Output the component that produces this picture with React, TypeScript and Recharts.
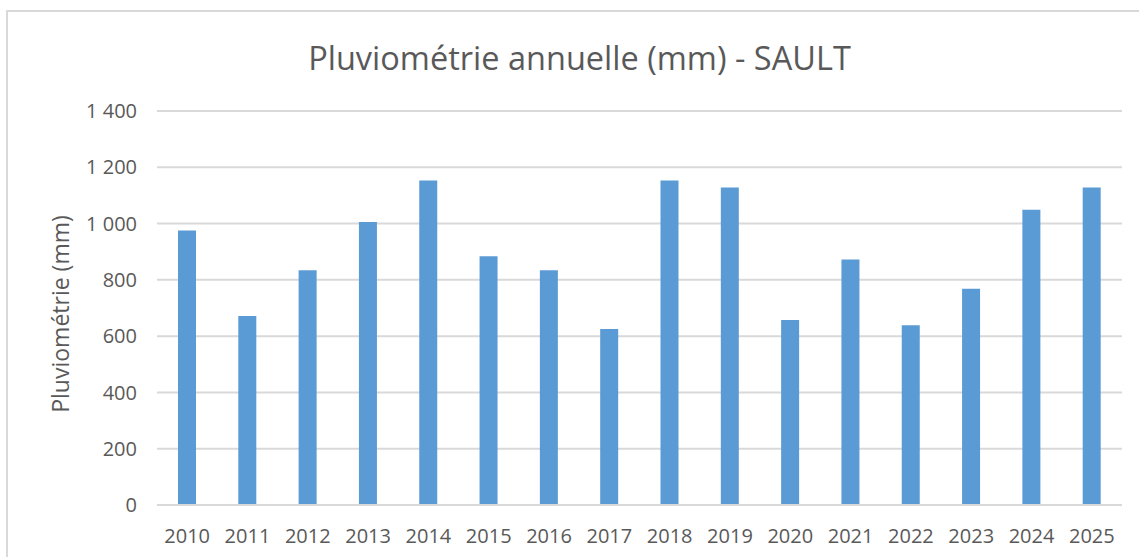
import { BarChart, Bar, XAxis, YAxis, CartesianGrid } from "recharts";

const years = ["2010", "2011", "2012", "2013", "2014", "2015", "2016", "2017", "2018", "2019", "2020", "2021", "2022", "2023", "2024", "2025"];
const rainfall = [975, 672, 834, 1006, 1153, 884, 834, 625, 1153, 1128, 657, 872, 639, 768, 1049, 1128];
const yTicks = [0, 200, 400, 600, 800, 1000, 1200, 1400];

const data = years.map((year, i) => ({ year, rainfall: rainfall[i] }));

const FONT = "'Open Sans', sans-serif";
const TEXT = "#595959";
const GRID = "#D9D9D9";

function formatTick(v: number) {
  return v >= 1000 ? `${Math.floor(v / 1000)} ${String(v % 1000).padStart(3, "0")}` : String(v);
}

export default function App() {
  return (
    <div style={{ position: "absolute", left: 0, top: 0, width: 1139, height: 557, background: "#fff", overflow: "hidden", fontFamily: FONT }}>
      <div style={{ position: "absolute", left: 6, top: 10, width: 1200, height: 600, borderLeft: `2px solid ${GRID}`, borderTop: `2px solid ${GRID}` }} />
      <div style={{ position: "absolute", left: 0, width: 1159, top: 36, textAlign: "center", fontSize: 32.5, color: TEXT, lineHeight: "44px" }}>
        Pluviométrie annuelle (mm) - SAULT
      </div>
      <div style={{ position: "absolute", left: 60, top: 314, transform: "translate(-50%, -50%) rotate(-90deg)", whiteSpace: "nowrap", fontSize: 23, color: TEXT }}>
        Pluviométrie (mm)
      </div>
      <BarChart width={1139} height={557} data={data} margin={{ top: 111, right: 17, bottom: 22, left: 57 }} style={{ position: "absolute", left: 0, top: 0 }}>
        <CartesianGrid vertical={false} stroke={GRID} strokeWidth={2} />
        <XAxis dataKey="year" height={30} axisLine={{ stroke: GRID, strokeWidth: 2 }} tickLine={false} tick={{ fill: TEXT, fontSize: 20, fontFamily: FONT }} dy={16} interval={0} />
        <YAxis width={100} domain={[0, 1400]} ticks={yTicks} tickFormatter={formatTick} axisLine={false} tickLine={false} tick={{ fill: TEXT, fontSize: 20, fontFamily: FONT }} dx={-12} />
        <Bar dataKey="rainfall" fill="#5B9BD5" barSize={18} isAnimationActive={false} />
      </BarChart>
    </div>
  );
}
